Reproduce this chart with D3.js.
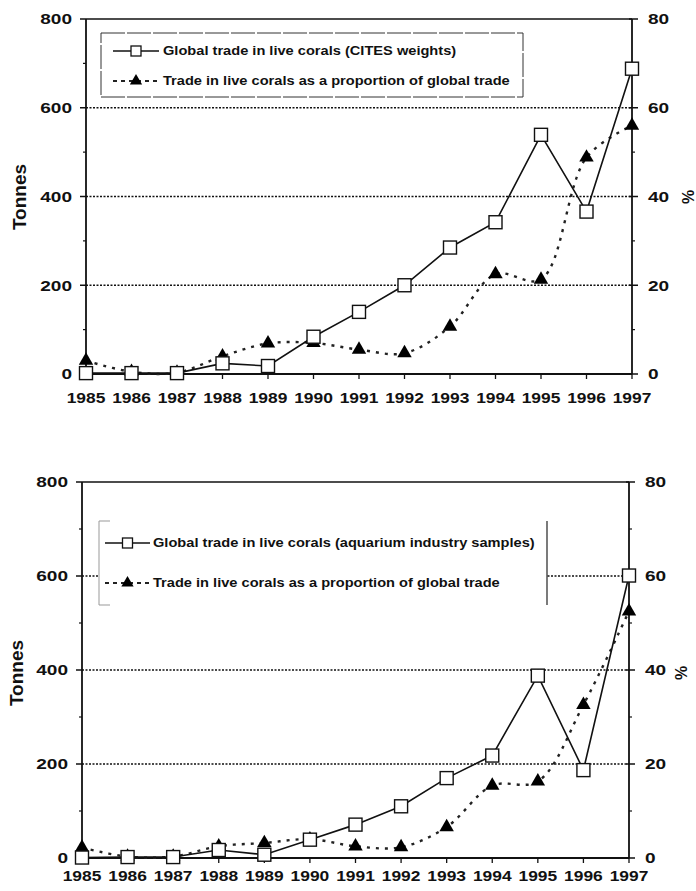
<!DOCTYPE html>
<html>
<head>
<meta charset="utf-8">
<script src="https://cdn.jsdelivr.net/npm/d3@7/dist/d3.min.js"></script>
<style>
  html, body { margin: 0; padding: 0; background: #fff; }
  svg { display: block; }
  text { font-family: "Liberation Sans", Arial, sans-serif; font-weight: bold; fill: #111; }
</style>
</head>
<body>
<svg id="chart" width="696" height="891"></svg>
<script>
// ---------------- data ----------------
const years = [1985, 1986, 1987, 1988, 1989, 1990, 1991, 1992, 1993, 1994, 1995, 1996, 1997];
const citesTonnes = [2, 2, 2, 24, 18, 84, 140, 200, 285, 342, 539, 366, 688];
const citesPct = [3.0, 0.5, 0.3, 4.0, 6.9, 7.0, 5.5, 4.7, 10.7, 22.5, 21.3, 48.8, 56.0];
const aquaTonnes = [1, 2, 2, 17, 7, 39, 71, 110, 170, 218, 388, 187, 601];
const aquaPct = [2.2, 0.3, 0.3, 2.5, 3.2, 4.0, 2.5, 2.3, 6.6, 15.4, 16.3, 32.6, 52.5];
const tonnesTicks = [0, 200, 400, 600, 800];
const tonnesMinor = [100, 300, 500, 700];
const pctTicks = [0, 20, 40, 60, 80];
const pctMinor = [10, 30, 50, 70];
const gridValues = [200, 400, 600];
const legendTop = ["Global trade in live corals (CITES weights)", "Trade in live corals as a proportion of global trade"];
const legendBottom = ["Global trade in live corals (aquarium industry samples)", "Trade in live corals as a proportion of global trade"];
const yTitle = "Tonnes";
const y2Title = "%";

const svg = d3.select("#chart");

function panel(cfg) {
  const g = svg.append("g");
  const x = d3.scalePoint().domain(years).range([cfg.x0, cfg.x1]);
  const y = d3.scaleLinear().domain([0, 800]).range([cfg.yZero, cfg.yTop]);
  const y2 = d3.scaleLinear().domain([0, 80]).range([cfg.yZero, cfg.yTop]);

  // gridlines
  g.selectAll(".grid").data(gridValues).join("line")
    .attr("x1", cfg.x0).attr("x2", cfg.x1)
    .attr("y1", d => y(d)).attr("y2", d => y(d))
    .attr("stroke", "#111").attr("stroke-width", 1.3).attr("stroke-dasharray", "2,1.5");

  // legend box
  const L = cfg.legend;
  if (cfg.legendStyle === "box") {
    g.append("rect").attr("x", L.x).attr("y", L.y).attr("width", L.w).attr("height", L.h)
      .attr("fill", "#fff").attr("stroke", "#333").attr("stroke-width", 1).attr("stroke-dasharray", "24,2");
  } else {
    g.append("rect").attr("x", L.x).attr("y", L.y).attr("width", L.w).attr("height", L.h)
      .attr("fill", "#fff");
    g.append("path").attr("d", `M${L.x + 11},${L.y}H${L.x}V${L.y + L.h}H${L.x + 11}`)
      .attr("fill", "none").attr("stroke", "#999").attr("stroke-width", 1);
    g.append("line").attr("x1", L.x + L.w).attr("x2", L.x + L.w).attr("y1", L.y).attr("y2", L.y + L.h)
      .attr("stroke", "#222").attr("stroke-width", 1.2);
  }
  // legend entries
  const lx0 = L.sx0, lx1 = L.sx1, lm = (lx0 + lx1) / 2;
  g.append("line").attr("x1", lx0).attr("x2", lx1).attr("y1", L.r1).attr("y2", L.r1)
    .attr("stroke", "#111").attr("stroke-width", 1.6);
  g.append("rect").attr("x", lm - 5).attr("y", L.r1 - 5).attr("width", 10).attr("height", 10)
    .attr("fill", "#fff").attr("stroke", "#111").attr("stroke-width", 1.3);
  g.append("line").attr("x1", lx0).attr("x2", lx1).attr("y1", L.r2).attr("y2", L.r2)
    .attr("stroke", "#222").attr("stroke-width", 2).attr("stroke-dasharray", "4,4");
  g.append("path").attr("d", d3.symbol(d3.symbolTriangle, 65)()).attr("transform", `translate(${lm},${L.r2})`)
    .attr("fill", "#000");
  [L.r1, L.r2].forEach((ry, i) => {
    g.append("text").attr("transform", `translate(${L.tx},${ry}) scale(1.17,1)`)
      .attr("dy", "0.35em").attr("font-size", 12.5).text(cfg.labels[i]);
  });

  // frame: top line and axes
  g.append("line").attr("x1", cfg.x0).attr("x2", cfg.x1).attr("y1", cfg.yTop).attr("y2", cfg.yTop)
    .attr("stroke", "#111").attr("stroke-width", 1.5);
  g.append("line").attr("x1", cfg.x0).attr("x2", cfg.x1).attr("y1", cfg.yZero).attr("y2", cfg.yZero)
    .attr("stroke", "#111").attr("stroke-width", 1.8);
  g.append("line").attr("x1", cfg.x0).attr("x2", cfg.x0).attr("y1", cfg.yTop).attr("y2", cfg.yZero)
    .attr("stroke", "#111").attr("stroke-width", 1.8);
  g.append("line").attr("x1", cfg.x1).attr("x2", cfg.x1).attr("y1", cfg.yTop).attr("y2", cfg.yZero)
    .attr("stroke", "#111").attr("stroke-width", 1.8);

  // left axis ticks
  g.selectAll(".lt").data(tonnesTicks).join("line")
    .attr("x1", cfg.x0 - 6).attr("x2", cfg.x0).attr("y1", d => y(d)).attr("y2", d => y(d))
    .attr("stroke", "#111").attr("stroke-width", 1.5);
  g.selectAll(".lm").data(tonnesMinor).join("line")
    .attr("x1", cfg.x0 - 3).attr("x2", cfg.x0).attr("y1", d => y(d)).attr("y2", d => y(d))
    .attr("stroke", "#111").attr("stroke-width", 1.2);
  g.selectAll(".ll").data(tonnesTicks).join("text")
    .attr("transform", d => `translate(${cfg.x0 - 14},${y(d)}) scale(1.27,1)`)
    .attr("dy", "0.36em").attr("text-anchor", "end")
    .attr("font-size", 15).text(d => d);

  // right axis ticks
  g.selectAll(".rt").data(pctTicks).join("line")
    .attr("x1", cfg.x1 - 3).attr("x2", cfg.x1 + 6).attr("y1", d => y2(d)).attr("y2", d => y2(d))
    .attr("stroke", "#111").attr("stroke-width", 1.5);
  g.selectAll(".rm").data(pctMinor).join("line")
    .attr("x1", cfg.x1).attr("x2", cfg.x1 + 3).attr("y1", d => y2(d)).attr("y2", d => y2(d))
    .attr("stroke", "#111").attr("stroke-width", 1.2);
  g.selectAll(".rl").data(pctTicks).join("text")
    .attr("transform", d => `translate(${cfg.x1 + 16},${y2(d)}) scale(1.27,1)`)
    .attr("dy", "0.36em").attr("text-anchor", "start")
    .attr("font-size", 15).text(d => d);

  // x axis ticks and labels
  g.selectAll(".xt").data(years).join("line")
    .attr("x1", d => x(d)).attr("x2", d => x(d)).attr("y1", cfg.yZero).attr("y2", cfg.yZero + 5)
    .attr("stroke", "#111").attr("stroke-width", 1.3);
  g.selectAll(".xl").data(years).join("text")
    .attr("transform", d => `translate(${x(d)},${cfg.labelY}) scale(1.2,1)`)
    .attr("dy", "0.36em").attr("text-anchor", "middle")
    .attr("font-size", 14.5).text(d => d);

  // axis titles
  g.append("text").attr("transform", `translate(${cfg.titleX},${cfg.titleY}) rotate(-90)`)
    .attr("text-anchor", "middle").attr("dy", "0.35em").attr("font-size", 19).text(yTitle);
  g.append("text").attr("transform", `translate(${cfg.title2X},${cfg.titleY}) rotate(-90)`)
    .attr("text-anchor", "middle").attr("dy", "0.35em").attr("font-size", 16).text(y2Title);

  // percentage series (smoothed dotted)
  const pctLine = d3.line().x((d, i) => x(years[i])).y(d => y2(d)).curve(d3.curveCatmullRom.alpha(0.5));
  g.append("path").attr("d", pctLine(cfg.pct)).attr("fill", "none")
    .attr("stroke", "#222").attr("stroke-width", 2.4).attr("stroke-dasharray", "3,6");

  // tonnes series (solid)
  const tLine = d3.line().x((d, i) => x(years[i])).y(d => y(d));
  g.append("path").attr("d", tLine(cfg.tonnes)).attr("fill", "none")
    .attr("stroke", "#111").attr("stroke-width", 1.6);

  // markers
  g.selectAll(".tri").data(cfg.pct).join("path")
    .attr("d", d3.symbol(d3.symbolTriangle, 90)())
    .attr("transform", (d, i) => `translate(${x(years[i])},${y2(d)})`)
    .attr("fill", "#000");
  g.selectAll(".sq").data(cfg.tonnes).join("rect")
    .attr("x", (d, i) => x(years[i]) - 6.5).attr("y", d => y(d) - 6.5)
    .attr("width", 13).attr("height", 13)
    .attr("fill", "#fff").attr("stroke", "#111").attr("stroke-width", 1.4);
}

panel({
  x0: 86, x1: 632, yZero: 374, yTop: 19, labelY: 398,
  titleX: 19, title2X: 688, titleY: 197,
  tonnes: citesTonnes, pct: citesPct, labels: legendTop,
  legendStyle: "box",
  legend: { x: 101, y: 33, w: 422, h: 64, r1: 51, r2: 81, sx0: 113, sx1: 159, tx: 163 }
});

panel({
  x0: 82, x1: 629, yZero: 858, yTop: 482, labelY: 876,
  titleX: 16, title2X: 681, titleY: 673,
  tonnes: aquaTonnes, pct: aquaPct, labels: legendBottom,
  legendStyle: "bracket",
  legend: { x: 99, y: 521, w: 448, h: 84, r1: 543, r2: 583, sx0: 105, sx1: 150, tx: 153 }
});
</script>
</body>
</html>
